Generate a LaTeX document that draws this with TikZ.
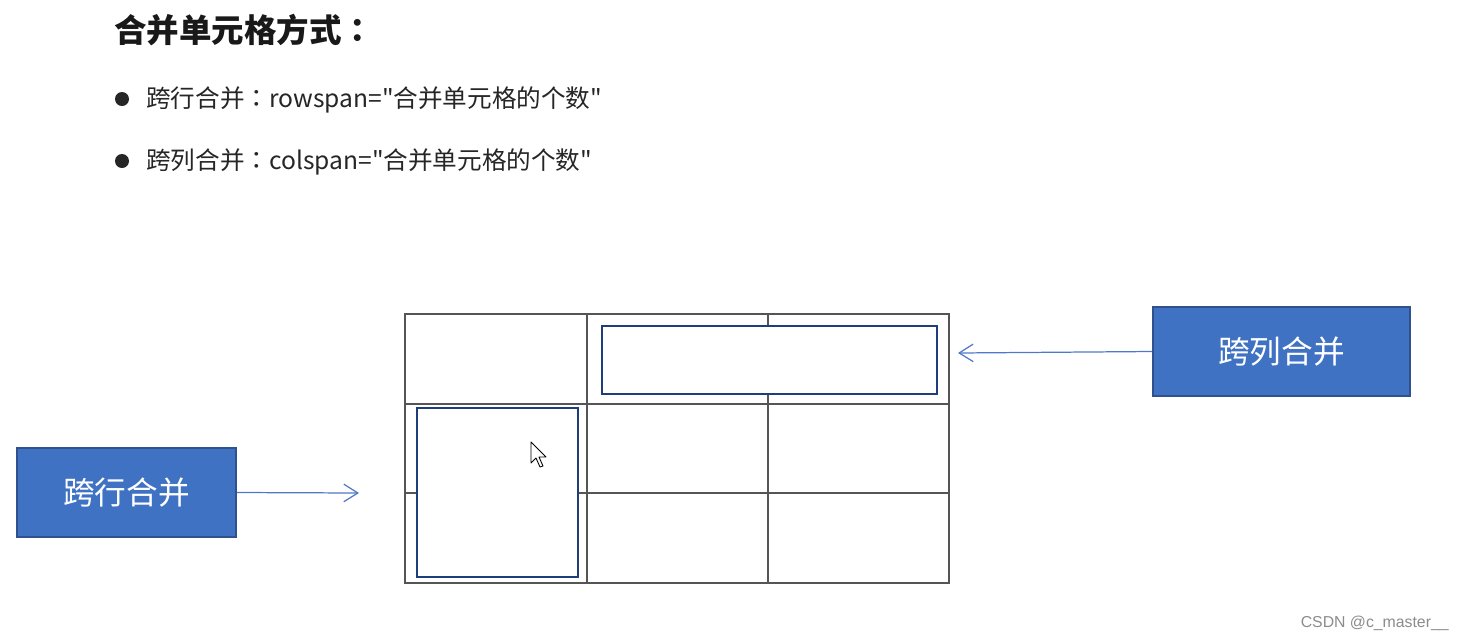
\documentclass[tikz,border=0pt]{standalone}
\usepackage{fontspec}
\newfontfamily\cjk{Noto Sans CJK SC}
\newfontfamily\cjktc{Noto Sans CJK TC}
\setsansfont{Liberation Sans}
\usetikzlibrary{arrows.meta}
\definecolor{boxfill}{RGB}{64,114,196}
\definecolor{boxedge}{RGB}{47,82,143}
\definecolor{gridc}{RGB}{85,85,85}
\definecolor{spanc}{RGB}{31,61,122}
\definecolor{arrc}{RGB}{80,120,200}
\newcommand{\fwcolon}{{\cjktc ：}}
\tikzset{
  bluebox/.style={draw=boxedge, line width=1.1pt, fill=boxfill, text=white,
    minimum width=#1, inner sep=0pt, font=\cjk\fontsize{18}{22}\selectfont},
  gridline/.style={draw=gridc, line width=1.1pt},
  spanbox/.style={draw=spanc, line width=1.6pt},
  conn/.style={draw=arrc, line width=0.7pt, -{Straight Barb[length=8pt,width=10pt,line width=0.7pt]}},
  bullettext/.style={anchor=west, inner sep=0pt, font=\cjk\fontsize{14}{17}\selectfont, text=black!85},
}
\begin{document}
\begin{tikzpicture}[x=0.02cm, y=-0.02cm]
\useasboundingbox (0,0) rectangle (1464,640);
\fill[white] (0,0) rectangle (1464,640);
% title
\node[anchor=west, inner sep=0pt, font=\cjk\bfseries\fontsize{18.5}{22}\selectfont, text=black!90] (title) at (114,30) {合并单元格方式\fwcolon};
% bullets
\fill[black!85] (122,99) circle (7);
\node[bullettext] (b1) at (146,100) {跨行合并\fwcolon rowspan="合并单元格的个数"};
\fill[black!85] (122,161) circle (7);
\node[bullettext] (b2) at (146,162) {跨列合并\fwcolon colspan="合并单元格的个数"};
% grid
\draw[gridline] (405,314) rectangle (949,583);
\draw[gridline] (587,314) -- (587,583);
\draw[gridline] (768,314) -- (768,583);
\draw[gridline] (405,404) -- (949,404);
\draw[gridline] (405,493) -- (949,493);
% merged cells
\draw[spanbox, fill=white] (602,326) rectangle (937,394);
\draw[spanbox, fill=white] (417,408) rectangle (578,577);
\coordinate (colspanbox) at (958,353);
\coordinate (rowspanbox) at (359,493);
% cursor
\draw[black, fill=white, line width=0.5pt, line join=round] (531,442) -- (531,463) -- (536,458) -- (540,467) -- (543,466) -- (539,457) -- (546,457) -- cycle;
% boxes
\node[bluebox=219*0.02cm, minimum height=89*0.02cm] (row) at (126.5,492.5) {跨行合并};
\node[bluebox=257*0.02cm, minimum height=89*0.02cm] (col) at (1281.5,351.5) {跨列合并};
% connectors
\draw[conn] (row.east) -- (rowspanbox);
\draw[conn] (col.west) -- (colspanbox);
% watermark
\node[anchor=east, inner sep=0pt, font=\sffamily\fontsize{9}{11}\selectfont, text=black!45] (wm) at (1449,623) {CSDN @c\_master\_\_};
\end{tikzpicture}
\end{document}
